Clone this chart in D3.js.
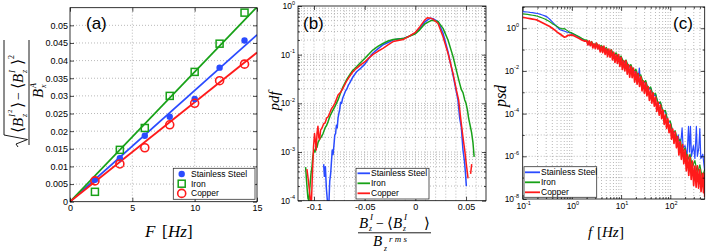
<!DOCTYPE html>
<html><head><meta charset="utf-8">
<script src="https://cdn.jsdelivr.net/npm/d3@7"></script>
<style>body{margin:0;background:#fff}svg{display:block}</style>
</head><body><svg id="chart" width="706" height="252"></svg>
<script>
// ---------------- DATA ----------------
const seriesNames = ["Stainless Steel", "Iron", "Copper"];
// panel (a)
const aForce = [2, 4, 6, 8, 10, 12, 14];
const aSteel = [0.0062, 0.0123, 0.0187, 0.0241, 0.0291, 0.0380, 0.0457];
const aIron = [0.0028, 0.0147, 0.0209, 0.0300, 0.0368, 0.0448, 0.0536];
const aCopper = [0.0059, 0.0107, 0.0153, 0.0218, 0.0279, 0.0343, 0.0390];
const aFitForce = [0, 15];
const aSteelFit = [0, 0.0473];
const aIronFit = [0, 0.0552];
const aCopperFit = [0, 0.0423];
const aXTicks = [0, 5, 10, 15];
const aYTicks = [0, 0.005, 0.01, 0.015, 0.02, 0.025, 0.03, 0.035, 0.04, 0.045, 0.05];
const aYLabels = ["0", "0.005", "0.01", "0.015", "0.02", "0.025", "0.03", "0.035", "0.04", "0.045", "0.05"];
// panel (b): [x, log10(pdf)]
const bXTicks = [-0.1, -0.05, 0, 0.05];
const bXLabels = ["-0.1", "-0.05", "0", "0.05"];
const bYTickExp = [-4, -3, -2, -1, 0];
const bSteel = [[-0.0905,-3.25],[-0.0897,-3.5],[-0.0888,-3.3],[-0.0878,-3.75],[-0.0868,-4.0],[-0.0852,-4.0],[-0.0845,-3.6],[-0.0836,-3.45],[-0.0828,-3.2],[-0.082,-2.96],[-0.0812,-3.05],[-0.0803,-2.85],[-0.0795,-2.65],[-0.0787,-2.62],[-0.0779,-2.45],[-0.0771,-2.5],[-0.0763,-2.3],[-0.0754,-2.2],[-0.0746,-2.12],[-0.0738,-1.98],[-0.0728,-2.0],[-0.0718,-1.9],[-0.0705,-1.83],[-0.069,-1.75],[-0.0675,-1.7],[-0.066,-1.62],[-0.065,-1.59],[-0.062,-1.47],[-0.058,-1.35],[-0.054,-1.28],[-0.05,-1.2],[-0.046,-1.08],[-0.042,-0.97],[-0.037,-0.88],[-0.032,-0.8],[-0.027,-0.75],[-0.022,-0.7],[-0.017,-0.68],[-0.012,-0.67],[-0.006,-0.62],[0,-0.56],[0.0043,-0.46],[0.0092,-0.33],[0.0125,-0.28],[0.015,-0.25],[0.0174,-0.26],[0.0224,-0.32],[0.0273,-0.56],[0.0322,-0.94],[0.0372,-1.42],[0.042,-1.93],[0.0437,-2.3],[0.0454,-2.5],[0.047,-2.96],[0.0485,-3.2],[0.0495,-3.45],[0.0503,-3.7]];
const bIron = [[-0.1083,-3.31],[-0.1075,-3.55],[-0.1068,-3.75],[-0.106,-3.95],[-0.105,-4.0],[-0.104,-3.7],[-0.103,-3.45],[-0.102,-3.3],[-0.1012,-3.1],[-0.1,-2.96],[-0.099,-3.0],[-0.098,-2.88],[-0.097,-2.9],[-0.096,-2.8],[-0.094,-2.72],[-0.0925,-2.68],[-0.0911,-2.62],[-0.089,-2.5],[-0.0875,-2.45],[-0.0862,-2.38],[-0.084,-2.25],[-0.0813,-2.14],[-0.079,-2.05],[-0.0763,-1.93],[-0.074,-1.8],[-0.0714,-1.66],[-0.068,-1.52],[-0.065,-1.42],[-0.062,-1.33],[-0.058,-1.25],[-0.054,-1.16],[-0.05,-1.08],[-0.046,-0.99],[-0.042,-0.905],[-0.037,-0.83],[-0.032,-0.77],[-0.027,-0.72],[-0.022,-0.69],[-0.017,-0.68],[-0.012,-0.67],[-0.006,-0.62],[0,-0.57],[0.0043,-0.49],[0.0092,-0.37],[0.0125,-0.33],[0.0155,-0.3],[0.0174,-0.3],[0.0224,-0.32],[0.0273,-0.46],[0.0322,-0.7],[0.0372,-1.04],[0.042,-1.45],[0.0437,-1.59],[0.0454,-1.72],[0.047,-1.78],[0.0487,-1.93],[0.05,-2.0],[0.0515,-2.15],[0.0525,-2.3],[0.054,-2.45],[0.0555,-2.6],[0.0568,-2.8],[0.058,-3.1]];
const bCopper = [[-0.107,-3.35],[-0.106,-3.51],[-0.1045,-3.8],[-0.1035,-4.0],[-0.1025,-4.0],[-0.1015,-3.4],[-0.1005,-2.9],[-0.0995,-2.62],[-0.0985,-2.8],[-0.0978,-2.96],[-0.097,-2.6],[-0.0961,-2.47],[-0.0953,-2.7],[-0.0945,-2.74],[-0.0935,-2.55],[-0.092,-2.5],[-0.0905,-2.42],[-0.089,-2.4],[-0.0875,-2.3],[-0.0862,-2.28],[-0.0845,-2.2],[-0.083,-2.12],[-0.0813,-2.07],[-0.079,-1.98],[-0.0763,-1.83],[-0.074,-1.78],[-0.0714,-1.69],[-0.068,-1.55],[-0.065,-1.45],[-0.062,-1.36],[-0.058,-1.28],[-0.054,-1.21],[-0.05,-1.15],[-0.046,-1.07],[-0.042,-1.0],[-0.037,-0.93],[-0.032,-0.87],[-0.027,-0.8],[-0.022,-0.73],[-0.017,-0.71],[-0.012,-0.69],[-0.006,-0.62],[0,-0.54],[0.0043,-0.43],[0.0092,-0.29],[0.0118,-0.24],[0.015,-0.25],[0.0174,-0.27],[0.0224,-0.36],[0.0273,-0.63],[0.0322,-0.97],[0.0372,-1.39],[0.0405,-1.73],[0.0427,-1.93],[0.0453,-2.41],[0.047,-2.7],[0.0487,-2.96],[0.05,-3.2],[0.052,-3.54],null,[0.0545,-3.45],[0.0556,-3.25]];
// panel (c): [log10(f), log10(psd)]
const cXTickExp = [-1, 0, 1, 2];
const cYTickExp = [-8, -6, -4, -2, 0];
const cSteel = [[-1,0.78],[-0.95,0.77],[-0.9,0.76],[-0.85,0.74],[-0.8,0.73],[-0.75,0.71],[-0.7,0.69],[-0.65,0.66],[-0.6,0.62],[-0.55,0.58],[-0.5,0.52],[-0.45,0.42],[-0.4,0.3],[-0.35,0.18],[-0.3,0.06],[-0.25,-0.06],[-0.2,-0.1],[-0.15,-0.14],[-0.1,-0.18],[-0.05,-0.2],[0,-0.24],[0.05,-0.3],[0.1,-0.36],[0.15,-0.43],[0.2,-0.5],[0.25,-0.56],[0.3,-0.62],[0.35,-0.78],[0.4,-0.68],[0.45,-0.85],[0.5,-0.75],[0.55,-0.95],[0.6,-0.85],[0.65,-1.05],[0.7,-0.95],[0.75,-1.18],[0.8,-1.05],[0.85,-1.3],[0.9,-1.2],[0.95,-1.45],[1.0,-1.35],[1.05,-1.65],[1.1,-1.55],[1.15,-1.85],[1.2,-1.75],[1.25,-2.1],[1.3,-2.0],[1.35,-2.35],[1.37,-1.87],[1.39,-2.4],[1.45,-2.6],[1.5,-2.5],[1.55,-2.9],[1.6,-2.8],[1.65,-3.2],[1.7,-3.1],[1.75,-3.55],[1.8,-3.5],[1.85,-3.95],[1.9,-3.9],[1.95,-4.4],[2.0,-4.4],[2.05,-4.9],[2.1,-4.85],[2.14,-5.35],[2.16,-5.0],[2.2,-5.55],[2.22,-5.2],[2.24,-4.67],[2.26,-5.6],[2.3,-5.5],[2.34,-6.0],[2.37,-4.6],[2.39,-5.8],[2.41,-4.6],[2.43,-6.0],[2.47,-5.5],[2.5,-6.1],[2.53,-4.6],[2.55,-6.0],[2.58,-5.6],[2.6,-4.7],[2.62,-6.1],[2.66,-5.9],[2.699,-6.7]];
const cIron = [[-1,0.67],[-0.95,0.66],[-0.9,0.65],[-0.85,0.63],[-0.8,0.61],[-0.75,0.59],[-0.7,0.56],[-0.65,0.52],[-0.6,0.48],[-0.55,0.43],[-0.5,0.37],[-0.45,0.3],[-0.4,0.22],[-0.35,0.15],[-0.3,0.08],[-0.25,0.01],[-0.2,-0.03],[-0.15,-0.02],[-0.1,-0.1],[-0.05,-0.18],[0,-0.22],[0.05,-0.28],[0.1,-0.34],[0.15,-0.4],[0.2,-0.47],[0.25,-0.53],[0.3,-0.55],[0.35,-0.7],[0.4,-0.62],[0.45,-0.8],[0.5,-0.7],[0.55,-0.88],[0.6,-0.8],[0.65,-0.98],[0.7,-0.9],[0.75,-1.12],[0.8,-1.0],[0.85,-1.25],[0.9,-1.15],[0.95,-1.38],[1.0,-1.3],[1.05,-1.6],[1.1,-1.48],[1.15,-1.8],[1.2,-1.7],[1.25,-2.02],[1.3,-1.92],[1.35,-2.25],[1.4,-2.18],[1.45,-2.55],[1.5,-2.45],[1.55,-2.85],[1.6,-2.75],[1.65,-3.12],[1.7,-3.05],[1.75,-3.5],[1.8,-3.45],[1.85,-3.9],[1.9,-3.85],[1.95,-4.35],[2.0,-4.35],[2.05,-4.85],[2.1,-4.8],[2.15,-5.3],[2.2,-5.2],[2.25,-5.8],[2.3,-5.6],[2.35,-6.2],[2.4,-5.9],[2.45,-6.5],[2.5,-6.2],[2.55,-6.8],[2.6,-6.4],[2.65,-7.0],[2.699,-6.6]];
const cCopper = [[-1,0.51],[-0.95,0.49],[-0.9,0.47],[-0.85,0.45],[-0.8,0.43],[-0.75,0.41],[-0.7,0.38],[-0.65,0.32],[-0.6,0.26],[-0.55,0.2],[-0.5,0.14],[-0.45,0.08],[-0.4,0.0],[-0.35,-0.08],[-0.3,-0.18],[-0.25,-0.26],[-0.2,-0.34],[-0.15,-0.42],[-0.12,-0.4],[-0.08,-0.33],[-0.04,-0.32],[0,-0.31],[0.05,-0.36],[0.1,-0.42],[0.15,-0.48],[0.2,-0.55],[0.25,-0.6],[0.3,-0.59],[0.325,-0.78],[0.35,-0.59],[0.375,-0.82],[0.4,-0.64],[0.425,-0.92],[0.45,-0.73],[0.475,-0.95],[0.5,-0.7],[0.525,-0.97],[0.55,-0.78],[0.575,-1.11],[0.6,-0.85],[0.625,-1.14],[0.65,-0.84],[0.675,-1.22],[0.7,-0.96],[0.725,-1.33],[0.75,-0.98],[0.775,-1.35],[0.8,-1.02],[0.825,-1.48],[0.85,-1.13],[0.875,-1.6],[0.9,-1.23],[0.925,-1.65],[0.95,-1.24],[0.975,-1.79],[1.0,-1.36],[1.025,-1.93],[1.05,-1.52],[1.075,-2.0],[1.1,-1.53],[1.125,-2.15],[1.15,-1.7],[1.175,-2.29],[1.2,-1.78],[1.225,-2.32],[1.25,-1.87],[1.275,-2.52],[1.3,-2.04],[1.325,-2.62],[1.35,-2.12],[1.375,-2.72],[1.4,-2.28],[1.425,-2.93],[1.45,-2.46],[1.475,-3.05],[1.5,-2.55],[1.525,-3.17],[1.55,-2.73],[1.575,-3.38],[1.6,-2.91],[1.625,-3.51],[1.65,-3.03],[1.675,-3.65],[1.7,-3.23],[1.725,-3.9],[1.75,-3.46],[1.775,-4.07],[1.8,-3.6],[1.825,-4.24],[1.85,-3.83],[1.875,-4.5],[1.9,-4.06],[1.925,-4.69],[1.95,-4.24],[1.975,-4.89],[2.0,-4.5],[2.025,-5.2],[2.05,-4.73],[2.075,-5.4],[2.1,-4.85],[2.125,-5.6],[2.15,-5.08],[2.175,-5.94],[2.2,-5.32],[2.225,-6.14],[2.25,-5.45],[2.275,-6.35],[2.3,-5.7],[2.325,-6.68],[2.35,-5.93],[2.375,-6.9],[2.4,-6.05],[2.425,-7.08],[2.45,-6.23],[2.475,-7.36],[2.5,-6.46],[2.525,-7.45],[2.55,-6.45],[2.575,-7.49],[2.6,-6.62],[2.625,-7.65],[2.65,-6.8],[2.675,-7.7],[2.69,-6.8],[2.699,-7.9]];

// ---------------- STYLE ----------------
const COLORS = ["#2a4bff", "#17a117", "#ff1a1a"];
const SANS = "Liberation Sans, Arial, Helvetica, sans-serif";
const SERIF = "Liberation Serif, Times New Roman, serif";
const GRID = {stroke: "#8a8a8a", dash: "1,2", w: 0.6};

const svg = d3.select("#chart");
svg.append("rect").attr("width", 706).attr("height", 252).attr("fill", "#fff");

function gridLines(g, x, y, xs, ys) {
  const [x0, x1] = x.range(), [y0, y1] = y.range();
  xs.forEach(v => g.append("line").attr("x1", x(v)).attr("x2", x(v)).attr("y1", y0).attr("y2", y1)
    .attr("stroke", GRID.stroke).attr("stroke-width", GRID.w).attr("stroke-dasharray", GRID.dash));
  ys.forEach(v => g.append("line").attr("y1", y(v)).attr("y2", y(v)).attr("x1", x0).attr("x2", x1)
    .attr("stroke", GRID.stroke).attr("stroke-width", GRID.w).attr("stroke-dasharray", GRID.dash));
}
function styleAxis(sel, fs) {
  sel.attr("font-family", SANS).attr("font-size", fs || 9);
  sel.select(".domain").remove();
  sel.selectAll(".tick line").attr("stroke", "#000").attr("stroke-width", 0.7);
  sel.selectAll("text").attr("fill", "#000");
}
function frame(g, x, y, majX, majY, minX, minY, labelsBottom, labelsLeft, pad) {
  const [x0, x1] = x.range(), [y0, y1] = y.range();
  const sides = [
    [d3.axisBottom(x), `translate(0,${y0})`, majX, minX, labelsBottom, 1],
    [d3.axisTop(x), `translate(0,${y1})`, majX, minX, null, 1],
    [d3.axisLeft(y), `translate(${x0},0)`, majY, minY, labelsLeft, 0],
    [d3.axisRight(y), `translate(${x1},0)`, majY, minY, null, 0]
  ];
  sides.forEach(([ax, tr, maj, min, labs, isX]) => {
    if (min && min.length) {
      const m = g.append("g").attr("transform", tr)
        .call(ax.tickValues(min).tickSizeInner(-2).tickSizeOuter(0).tickFormat(""));
      styleAxis(m);
    }
    const a = g.append("g").attr("transform", tr)
      .call(ax.tickValues(maj).tickSizeInner(-4).tickSizeOuter(0).tickPadding(isX ? 3 : pad)
        .tickFormat(labs ? ((d, i) => labs(d, i)) : ""));
    styleAxis(a);
  });
  g.append("rect").attr("x", x0).attr("y", y1).attr("width", x1 - x0).attr("height", y0 - y1)
    .attr("fill", "none").attr("stroke", "#000").attr("stroke-width", 0.8);
}
function clip(id, x, y) {
  const [x0, x1] = x.range(), [y0, y1] = y.range();
  svg.append("clipPath").attr("id", id).append("rect")
    .attr("x", x0).attr("y", y1).attr("width", x1 - x0).attr("height", y0 - y1);
}
function txt(g, x, y, s, size, opts = {}) {
  return g.append("text").attr("x", x).attr("y", y).text(s)
    .attr("font-size", size).attr("font-family", opts.family || SERIF)
    .attr("font-style", opts.italic === false ? "normal" : "italic")
    .attr("text-anchor", opts.anchor || "start").attr("fill", "#000");
}
function powLabel(g, x, y, e, anchor) {
  const t = g.append("text").attr("x", x).attr("y", y).attr("text-anchor", anchor)
    .attr("font-family", SANS).attr("font-size", 8.5).attr("fill", "#000");
  t.append("tspan").text("10");
  t.append("tspan").attr("dy", -4.5).attr("font-size", 5.5).text(String(e));
}
function legend(g, x, y, w, h, rows, draw) {
  g.append("rect").attr("x", x).attr("y", y).attr("width", w).attr("height", h)
    .attr("fill", "#fff").attr("stroke", "#333").attr("stroke-width", 0.8);
  rows.forEach((r, i) => draw(g, i, r));
}

// ================= PANEL (a) =================
const xa = d3.scaleLinear().domain([0, 15]).range([70, 257]);
const ya = d3.scaleLinear().domain([0, 0.055]).range([201.7, 7.7]);
const ga = svg.append("g");
clip("clipA", xa, ya);
gridLines(ga, xa, ya, aXTicks.slice(1, -1), aYTicks.slice(1));
const pa = ga.append("g").attr("clip-path", "url(#clipA)");
const aFits = [aSteelFit, aIronFit, aCopperFit];
aFits.forEach((fit, k) => {
  pa.append("path").datum(aFitForce.map((f, i) => [f, fit[i]]))
    .attr("d", d3.line().x(d => xa(d[0])).y(d => ya(d[1])))
    .attr("fill", "none").attr("stroke", COLORS[k]).attr("stroke-width", 1.8);
});
function markerA(g, k, cx, cy) {
  if (k === 0) g.append("circle").attr("cx", cx).attr("cy", cy).attr("r", 3.2).attr("fill", COLORS[0]);
  else if (k === 1) g.append("rect").attr("x", cx - 3.5).attr("y", cy - 3.5).attr("width", 7).attr("height", 7)
    .attr("fill", "none").attr("stroke", COLORS[1]).attr("stroke-width", 1.5);
  else g.append("circle").attr("cx", cx).attr("cy", cy).attr("r", 4).attr("fill", "none")
    .attr("stroke", COLORS[2]).attr("stroke-width", 1.6);
}
[aSteel, aIron, aCopper].forEach((vals, k) => {
  vals.forEach((v, i) => markerA(pa, k, xa(aForce[i]), ya(v)));
});
frame(ga, xa, ya, aXTicks, aYTicks, [], [], d => String(d), (d, i) => aYLabels[i], 2);
legend(ga, 173.3, 168.3, 81.7, 31, seriesNames, (g, i, name) => {
  const cy = 174 + i * 9.7;
  markerA(g, i, 181.7, cy);
  txt(g, 191, cy + 3, name, 8.5, {family: SANS, italic: false});
});
txt(ga, 86, 28.5, "(a)", 17, {family: SANS, italic: false});
// x label
txt(ga, 145, 237, "F", 17);
txt(ga, 162, 237, "[", 17, {italic: false});
txt(ga, 168, 237, "Hz", 17);
txt(ga, 187, 237, "]", 17, {italic: false});
// y label (rotated fraction)
const yl = ga.append("g").attr("transform", "translate(29,92) rotate(-90)");
yl.append("line").attr("x1", -53).attr("x2", 52).attr("y1", 0).attr("y2", 0).attr("stroke", "#000").attr("stroke-width", 0.9);
yl.append("path").attr("d", "M-55,-11 L-52,-13 L-47.5,-1.5 L-43,-25 L52,-25")
  .attr("fill", "none").attr("stroke", "#000").attr("stroke-width", 0.9);
txt(yl, -41, -6, "\u27E8", 16, {italic: false});
txt(yl, -35, -6, "B", 15);
txt(yl, -25, -2.5, "z", 8);
txt(yl, -25, -14, "I", 9);
txt(yl, -21, -17.5, "2", 7, {italic: false});
txt(yl, -16, -6, "\u27E9", 16, {italic: false});
txt(yl, -8, -6, "\u2212", 14, {italic: false});
txt(yl, 3, -6, "\u27E8", 16, {italic: false});
txt(yl, 9, -6, "B", 15);
txt(yl, 19, -2.5, "z", 8);
txt(yl, 19, -14, "I", 9);
txt(yl, 27, -6, "\u27E9", 16, {italic: false});
txt(yl, 33, -15, "2", 8, {italic: false});
txt(yl, -6, 14, "B", 15);
txt(yl, 4, 17, "x", 8);
txt(yl, 4, 7, "A", 8);

// ================= PANEL (b) =================
const xb = d3.scaleLinear().domain([-0.1158, 0.0697]).range([298, 486]);
const yb = d3.scaleLog().domain([1e-4, 1]).range([200.7, 6]);
const gb = svg.append("g");
clip("clipB", xb, yb);
const bMinorX = d3.range(-11, 7).map(i => i / 100);
const bMinorY = [];
bYTickExp.slice(0, -1).forEach(e => { for (let m = 2; m <= 9; m++) bMinorY.push(m * Math.pow(10, e)); });
const bMajY = bYTickExp.map(e => Math.pow(10, e));
gridLines(gb, xb, yb, bMinorX, bMinorY.concat(bMajY.slice(1, -1)));
const pb = gb.append("g").attr("clip-path", "url(#clipB)");
[bSteel, bIron, bCopper].forEach((ser, k) => {
  pb.append("path").datum(ser)
    .attr("d", d3.line().defined(d => d).x(d => xb(d[0])).y(d => yb(Math.pow(10, d[1]))))
    .attr("fill", "none").attr("stroke", COLORS[k]).attr("stroke-width", 1.5).attr("stroke-linejoin", "round");
});
frame(gb, xb, yb, bXTicks, bMajY, [], bMinorY, (d, i) => bXLabels[i], null, 3);
bYTickExp.forEach(e => powLabel(gb, 295, yb(Math.pow(10, e)) + 3, e, "end"));
legend(gb, 356, 168.3, 73, 30.7, seriesNames, (g, i, name) => {
  const cy = 173.3 + i * 10;
  g.append("line").attr("x1", 357.5).attr("x2", 370).attr("y1", cy).attr("y2", cy).attr("stroke", COLORS[i]).attr("stroke-width", 1.8);
  txt(g, 371, cy + 3, name, 8.5, {family: SANS, italic: false});
});
txt(gb, 303, 28.5, "(b)", 17, {family: SANS, italic: false});
// y label
txt(gb.append("g").attr("transform", "translate(279,101) rotate(-90)"), 0, 0, "pdf", 15, {anchor: "middle"});
// x label fraction
gb.append("line").attr("x1", 358).attr("x2", 431).attr("y1", 232.8).attr("y2", 232.8).attr("stroke", "#000").attr("stroke-width", 0.9);
txt(gb, 359, 228, "B", 15);
txt(gb, 370, 219.5, "I", 9);
txt(gb, 369, 231, "z", 7.5);
txt(gb, 376, 228, "\u2212", 14, {italic: false});
txt(gb, 387, 228, "\u27E8", 15, {italic: false});
txt(gb, 393, 228, "B", 15);
txt(gb, 404, 219.5, "I", 9);
txt(gb, 403, 231, "z", 7.5);
txt(gb, 424, 228, "\u27E9", 15, {italic: false});
txt(gb, 373, 246, "B", 15);
txt(gb, 384, 250.5, "z", 7.5);
txt(gb, 389, 242, "r m s", 9);

// ================= PANEL (c) =================
const xc = d3.scaleLog().domain([0.1, 500]).range([522.7, 704.7]);
const yc = d3.scaleLog().domain([1e-8, 10]).range([199, 6.9]);
const gc = svg.append("g");
clip("clipC", xc, yc);
const cMajX = cXTickExp.map(e => Math.pow(10, e));
const cMinorX = [];
[-1, 0, 1, 2].forEach(e => { for (let m = 2; m <= 9; m++) { const v = m * Math.pow(10, e); if (v < 500) cMinorX.push(v); } });
const cMajY = cYTickExp.map(e => Math.pow(10, e));
const cMinorY = [-7, -5, -3, -1, 1].map(e => Math.pow(10, e));
gridLines(gc, xc, yc, cMajX.slice(1).concat(cMinorX), cMajY.slice(1).concat(cMinorY.slice(0, -1)));
const pc = gc.append("g").attr("clip-path", "url(#clipC)");
[cSteel, cIron, cCopper].forEach((ser, k) => {
  pc.append("path").datum(ser)
    .attr("d", d3.line().x(d => xc(Math.pow(10, d[0]))).y(d => yc(Math.pow(10, d[1]))))
    .attr("fill", "none").attr("stroke", COLORS[k]).attr("stroke-width", k === 2 ? 1.7 : 1.2).attr("stroke-linejoin", "round");
});
frame(gc, xc, yc, cMajX, cMajY, cMinorX, cMinorY, null, null, 3);
cXTickExp.forEach(e => powLabel(gc, xc(Math.pow(10, e)) + 1, 209, e, "middle"));
cYTickExp.forEach(e => powLabel(gc, 519, yc(Math.pow(10, e)) + 3, e, "end"));
legend(gc, 524, 166.7, 72.7, 30.6, seriesNames, (g, i, name) => {
  const cy = 172.3 + i * 10;
  g.append("line").attr("x1", 525).attr("x2", 540).attr("y1", cy).attr("y2", cy).attr("stroke", COLORS[i]).attr("stroke-width", 1.8);
  txt(g, 541, cy + 3, name, 8.5, {family: SANS, italic: false});
});
txt(gc, 673, 28.5, "(c)", 17, {family: SANS, italic: false});
txt(gc.append("g").attr("transform", "translate(506,96) rotate(-90)"), 0, 0, "psd", 16, {anchor: "middle"});
txt(gc, 588, 237, "f", 15);
txt(gc, 597, 237, "[", 15, {italic: false});
txt(gc, 602, 237, "Hz", 15);
txt(gc, 619, 237, "]", 15, {italic: false});
</script></body></html>
